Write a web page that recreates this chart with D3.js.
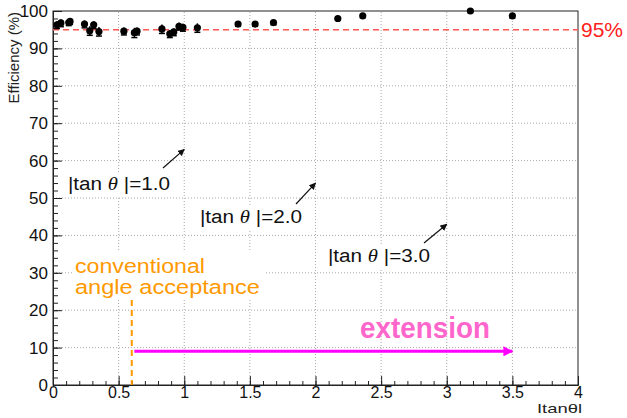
<!DOCTYPE html>
<html>
<head>
<meta charset="utf-8">
<script src="https://d3js.org/d3.v7.min.js"></script>
<style>
  body { margin: 0; background: #fff; }
  text { font-family: "Liberation Sans", Arial, sans-serif; }
</style>
</head>
<body>
<svg id="chart" width="627" height="418"></svg>
<script>
// efficiency vs |tan theta|
var tanTheta = [0.03, 0.06, 0.12, 0.13, 0.24, 0.28, 0.31, 0.35, 0.54, 0.62, 0.64, 0.83,
                0.89, 0.92, 0.96, 0.99, 1.10, 1.41, 1.54, 1.68, 2.17, 2.36, 3.18, 3.50];
var efficiency = [96.3, 96.8, 96.9, 97.2, 96.5, 94.7, 96.3, 94.5, 94.6, 94.2, 94.6, 95.2,
                  93.9, 94.4, 95.9, 95.6, 95.5, 96.5, 96.5, 96.9, 98.0, 98.7, 100, 98.7];
var effErr = [1.0, 1.0, 0.8, 0.8, 1.0, 1.2, 1.0, 1.2, 1.0, 1.3, 1.0, 1.2,
              1.0, 1.0, 1.0, 1.0, 1.2, 0.6, 0.6, 0.6, 0.4, 0.5, 0.2, 0.6];
var xMajor = [0, 0.5, 1, 1.5, 2, 2.5, 3, 3.5, 4];
var yMajor = [0, 10, 20, 30, 40, 50, 60, 70, 80, 90, 100];
var xLabels = ["0", "0.5", "1", "1.5", "2", "2.5", "3", "3.5", "4"];
var threshold = 95;
var conventionalCut = 0.6;
var extensionFrom = 0.62, extensionTo = 3.5, extensionLevel = 9;
var markers = [
  {t: 1.0, label: "1.0", tx: 68,  ty: 190, ax: 163, ay: 168, ey: 63},
  {t: 2.0, label: "2.0", tx: 200, ty: 223, ax: 296, ay: 204, ey: 54},
  {t: 3.0, label: "3.0", tx: 328, ty: 262, ax: 424, ay: 243, ey: 43}
];

var svg = d3.select("#chart");
var x = d3.scaleLinear().domain([0, 4]).range([53, 578]);
var y = d3.scaleLinear().domain([0, 100]).range([385, 11]);

// grid
var xGrid = d3.range(0.5, 4, 0.5), yGrid = d3.range(10, 100, 10);
svg.append("g").selectAll("line").data(xGrid).enter().append("line")
  .attr("x1", d => x(d)).attr("x2", d => x(d))
  .attr("y1", y(0)).attr("y2", y(100))
  .attr("stroke", "#aaa").attr("stroke-dasharray", "1,2");
svg.append("g").selectAll("line").data(yGrid).enter().append("line")
  .attr("y1", d => y(d)).attr("y2", d => y(d))
  .attr("x1", x(0)).attr("x2", x(4))
  .attr("stroke", "#aaa").attr("stroke-dasharray", "1,2");

// axes, ROOT style ticks inside the frame
var xMinor = d3.range(0, 4.001, 0.1).map(d => +d.toFixed(1));
var yMinor = d3.range(0, 100.1, 2);
svg.append("g").attr("transform", "translate(0," + y(0) + ")")
  .call(d3.axisBottom(x).tickValues(xMinor).tickSize(-4).tickSizeOuter(0).tickFormat(""));
var xa = svg.append("g").attr("transform", "translate(0," + y(0) + ")")
  .call(d3.axisBottom(x).tickValues(xMajor).tickSize(-9).tickSizeOuter(0)
    .tickPadding(2).tickFormat((d, i) => xLabels[i]));
svg.append("g").attr("transform", "translate(" + x(0) + ",0)")
  .call(d3.axisLeft(y).tickValues(yMinor).tickSize(-5).tickSizeOuter(0).tickFormat(""));
var ya = svg.append("g").attr("transform", "translate(" + x(0) + ",0)")
  .call(d3.axisLeft(y).tickValues(yMajor).tickSize(-9).tickSizeOuter(0).tickPadding(5));
svg.selectAll(".tick line").attr("stroke", "#222");
svg.selectAll(".domain").attr("stroke", "#222");
xa.selectAll("text").attr("font-size", 16).attr("font-family", "Liberation Sans").attr("fill", "#111");
ya.selectAll("text").attr("font-size", 17).attr("font-family", "Liberation Sans").attr("fill", "#111");

svg.append("rect").attr("x", x(0)).attr("y", y(100))
  .attr("width", x(4) - x(0)).attr("height", y(0) - y(100))
  .attr("fill", "none").attr("stroke", "#222");

// axis titles
svg.append("text").attr("transform", "translate(19," + (y(100) + 1) + ") rotate(-90)")
  .attr("text-anchor", "end").attr("font-size", 15).attr("fill", "#222")
  .text("Efficiency (%)");
svg.append("text").attr("x", x(4) + 4).attr("y", 413).attr("text-anchor", "end")
  .attr("font-size", 13).attr("fill", "#222")
  .attr("textLength", 45).attr("lengthAdjust", "spacingAndGlyphs").text("Itanθl");

// 95% line
svg.append("line").attr("x1", x(0)).attr("x2", x(4))
  .attr("y1", y(threshold)).attr("y2", y(threshold))
  .attr("stroke", "#ff5555").attr("stroke-width", 1.5).attr("stroke-dasharray", "6,4");
svg.append("text").attr("x", 581).attr("y", y(threshold) + 7)
  .attr("font-size", 21).attr("fill", "#ff2020").text("95%");

// data points
var pts = tanTheta.map((t, i) => ({t: t, e: efficiency[i], err: effErr[i]}));
var pg = svg.append("g");
pg.selectAll("line.err").data(pts).enter().append("line").attr("class", "err")
  .attr("x1", d => x(d.t)).attr("x2", d => x(d.t))
  .attr("y1", d => y(Math.min(100, d.e + d.err))).attr("y2", d => y(d.e - d.err))
  .attr("stroke", "#000").attr("stroke-width", 1.5);
pg.selectAll("line.cap").data(pts).enter().append("line").attr("class", "cap")
  .attr("x1", d => x(d.t) - 3).attr("x2", d => x(d.t) + 3)
  .attr("y1", d => y(d.e - d.err)).attr("y2", d => y(d.e - d.err))
  .attr("stroke", "#000").attr("stroke-width", 1.5);
pg.selectAll("circle").data(pts).enter().append("circle")
  .attr("cx", d => x(d.t)).attr("cy", d => y(d.e)).attr("r", 3.6).attr("fill", "#000");

// arrowheads
var defs = svg.append("defs");
defs.append("marker").attr("id", "ah").attr("viewBox", "0 0 10 10")
  .attr("refX", 9).attr("refY", 5).attr("markerWidth", 7).attr("markerHeight", 7)
  .attr("markerUnits", "userSpaceOnUse").attr("orient", "auto")
  .append("path").attr("d", "M0,0L10,5L0,10z").attr("fill", "#111");
defs.append("marker").attr("id", "ahm").attr("viewBox", "0 0 10 10")
  .attr("refX", 9).attr("refY", 5).attr("markerWidth", 14).attr("markerHeight", 10)
  .attr("markerUnits", "userSpaceOnUse").attr("orient", "auto")
  .append("path").attr("d", "M0,0L10,5L0,10z").attr("fill", "#ff00ff");

// |tan theta| annotations
markers.forEach(function(m) {
  svg.append("rect").attr("x", m.tx - 2).attr("y", m.ty - 17).attr("width", 106).attr("height", 23)
    .attr("fill", "#fff");
  var t = svg.append("text").attr("x", m.tx).attr("y", m.ty).attr("font-size", 18).attr("fill", "#111")
    .attr("textLength", 102).attr("lengthAdjust", "spacingAndGlyphs");
  t.append("tspan").text("|tan ");
  t.append("tspan").attr("font-style", "italic").attr("font-family", "Liberation Serif").text("θ");
  t.append("tspan").text(" |=" + m.label);
  svg.append("line").attr("x1", m.ax).attr("y1", m.ay)
    .attr("x2", x(m.t)).attr("y2", y(m.ey))
    .attr("stroke", "#111").attr("stroke-width", 1.2).attr("marker-end", "url(#ah)");
});

// conventional acceptance
svg.append("rect").attr("x", 72).attr("y", 252).attr("width", 192).attr("height", 48).attr("fill", "#fff");
svg.append("text").attr("x", 75).attr("y", 273).attr("font-size", 20).attr("fill", "#ff9900")
  .attr("textLength", 130).attr("lengthAdjust", "spacingAndGlyphs").text("conventional");
svg.append("text").attr("x", 75).attr("y", 294).attr("font-size", 20).attr("fill", "#ff9900")
  .attr("textLength", 185).attr("lengthAdjust", "spacingAndGlyphs").text("angle acceptance");
svg.append("line").attr("x1", x(conventionalCut)).attr("x2", x(conventionalCut))
  .attr("y1", 300).attr("y2", y(0))
  .attr("stroke", "#ff9900").attr("stroke-width", 2).attr("stroke-dasharray", "6,4");

// extension
svg.append("line").attr("x1", x(extensionFrom)).attr("x2", x(extensionTo))
  .attr("y1", y(extensionLevel)).attr("y2", y(extensionLevel))
  .attr("stroke", "#ff00ff").attr("stroke-width", 3).attr("marker-end", "url(#ahm)");
svg.append("text").attr("x", 360).attr("y", 338).attr("font-size", 29).attr("font-weight", "bold")
  .attr("fill", "#ff66cc").attr("textLength", 130).attr("lengthAdjust", "spacingAndGlyphs").text("extension");
</script>
</body>
</html>
